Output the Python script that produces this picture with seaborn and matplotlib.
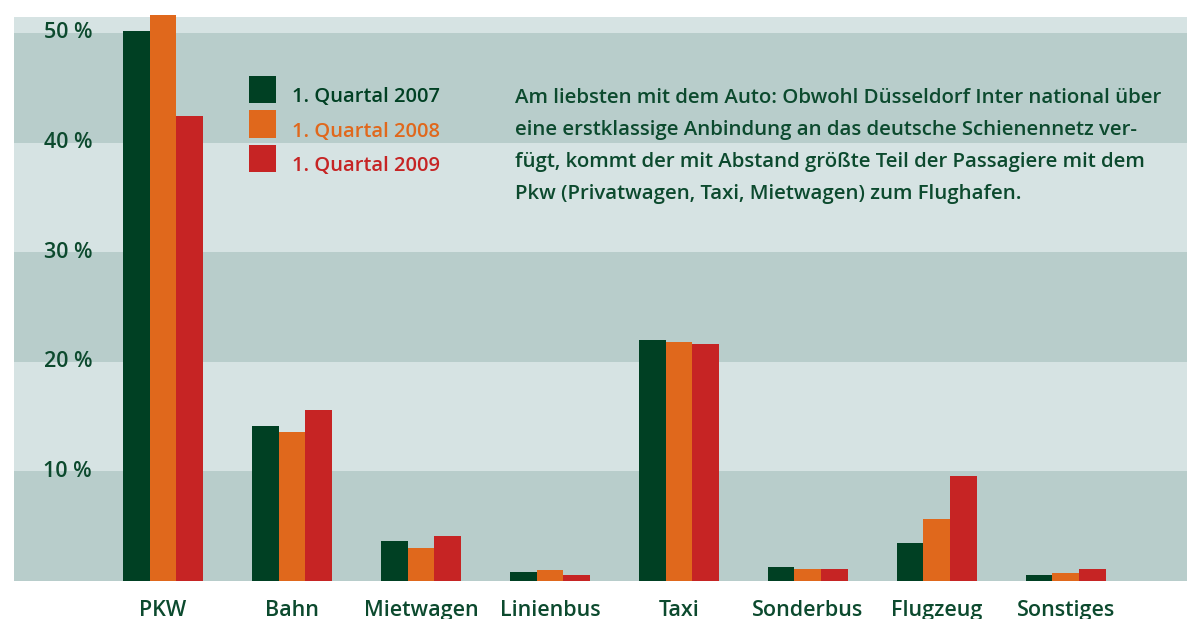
import pandas as pd
import matplotlib.pyplot as plt
import matplotlib.transforms as mtransforms
import seaborn as sns

# Data (share of passengers by mode of transport to the airport, %)
categories = ["PKW", "Bahn", "Mietwagen", "Linienbus", "Taxi", "Sonderbus", "Flugzeug", "Sonstiges"]
years = ["1. Quartal 2007", "1. Quartal 2008", "1. Quartal 2009"]
q2007 = [50.2, 14.1, 3.65, 0.8, 22.0, 1.3, 3.5, 0.55]
q2008 = [51.6, 13.6, 3.0, 1.0, 21.8, 1.1, 5.65, 0.75]
q2009 = [42.4, 15.6, 4.1, 0.55, 21.6, 1.1, 9.6, 1.1]
y_ticks = [10, 20, 30, 40, 50]
y_tick_labels = ["10 %", "20 %", "30 %", "40 %", "50 %"]

note = ("Am liebsten mit dem Auto: Obwohl Düsseldorf Inter national über\n"
        "eine erstklassige Anbindung an das deutsche Schienennetz ver-\n"
        "fügt, kommt der mit Abstand größte Teil der Passagiere mit dem\n"
        "Pkw (Privatwagen, Taxi, Mietwagen) zum Flughafen.")

df = pd.DataFrame({
    "Kategorie": categories * 3,
    "Jahr": [years[0]] * 8 + [years[1]] * 8 + [years[2]] * 8,
    "Anteil": q2007 + q2008 + q2009,
})

green = "#004023"
orange = "#e0681c"
red = "#c62424"
text_green = "#0c4a2e"
band_dark = "#b8cdcb"
band_light = "#d6e3e3"

sns.set_style("white")
plt.rcParams["font.family"] = ["Open Sans", "DejaVu Sans"]
plt.rcParams["font.weight"] = "semibold"

fig = plt.figure(figsize=(12.01, 6.19), dpi=100)
ax = fig.add_axes([14 / 1201, 38 / 619, 1173 / 1201, 564 / 619])

# alternating background bands
ymax = 51.45
for lo in range(0, 60, 10):
    ax.axhspan(lo, min(lo + 10, ymax), color=band_dark if (lo // 10) % 2 == 0 else band_light,
               lw=0, zorder=0)

sns.barplot(data=df, x="Kategorie", y="Anteil", hue="Jahr", palette=[green, orange, red],
            width=0.62, saturation=1, gap=0, ax=ax, zorder=2, legend=False)
for p in ax.patches:
    p.set_clip_on(False)
    p.set_edgecolor("none")

ax.set_xlim(-1.155, 7.94)
ax.set_ylim(0, ymax)
ax.set_xlabel("")
ax.set_ylabel("")
ax.set_yticks([])
ax.tick_params(axis="x", length=0, pad=14, labelsize=15.5, labelcolor=text_green)
for s in ax.spines.values():
    s.set_visible(False)

trans = mtransforms.blended_transform_factory(ax.transAxes, ax.transData)
for v, lab in zip(y_ticks, y_tick_labels):
    ax.text(78 / 1173, v, lab, transform=trans, ha="right", va="center",
            fontsize=15.5, color=text_green, zorder=3)

# legend
for i, (yr, col) in enumerate(zip(years, [green, orange, red])):
    ytop = 76 + i * 34.5
    fig.patches.append(plt.Rectangle((249 / 1201, 1 - (ytop + 27) / 619), 27 / 1201, 27 / 619,
                                     transform=fig.transFigure, color=col, lw=0, zorder=5))
    fig.text(292 / 1201, 1 - (ytop + 21) / 619, yr, ha="left", va="center",
             fontsize=14.5, color=col)

fig.text(515 / 1201, 1 - 88 / 619, note, ha="left", va="top", fontsize=14.7,
         color=text_green, linespacing=1.8)

plt.savefig("out.png", dpi=100, facecolor="white")
plt.close()
